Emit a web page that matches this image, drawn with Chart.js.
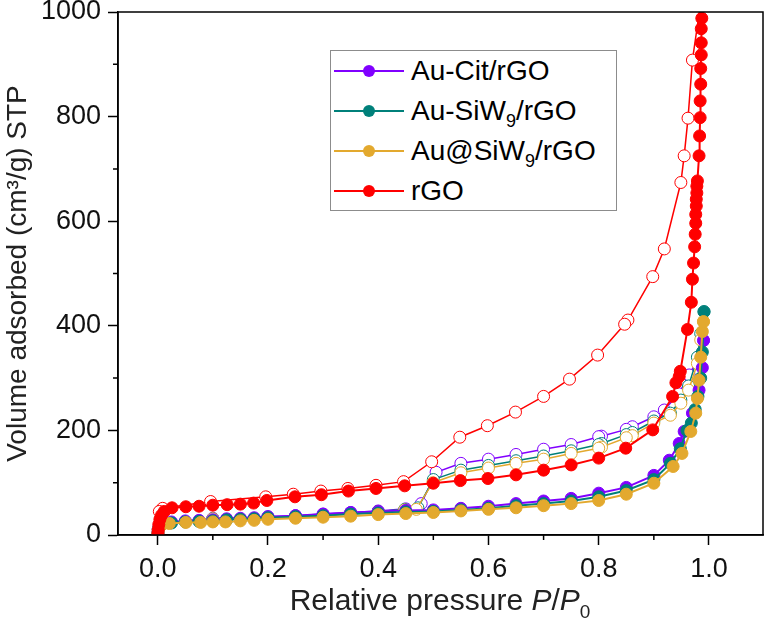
<!DOCTYPE html>
<html>
<head>
<meta charset="utf-8">
<script src="https://cdn.jsdelivr.net/npm/chart.js@4.4.1/dist/chart.umd.min.js"></script>
<style>
  body { margin: 0; background: #fff; }
  #wrap { position: relative; width: 770px; height: 626px; font-family: Arial, "Liberation Sans", sans-serif; }
  #legend {
    position: absolute; left: 330px; top: 50px; width: 287px; height: 161px;
    border: 1px solid #8c8c8c; box-sizing: border-box; background: #fff;
  }
  .row { position: absolute; left: 0; height: 40px; display: flex; align-items: center; font-size: 28px; color: #000; white-space: nowrap; }
  .row svg { margin-left: 3px; margin-right: 7px; }
  .row sub { font-size: 18px; vertical-align: -7px; line-height: 0; }
  #xtitle { position: absolute; left: 0; width: 880px; top: 583px; text-align: center; font-size: 30px; color: #222; white-space: nowrap; }
  #xtitle sub { font-size: 19px; vertical-align: -8px; line-height: 0; }
</style>
</head>
<body>
<div id="wrap">
  <canvas id="chart" width="770" height="626"></canvas>
  <div id="legend"></div>
  <div id="xtitle">Relative pressure <i>P</i>/<i>P</i><sub>0</sub></div>
</div>
<script>
// tick labels
const xTicks = [0, 0.2, 0.4, 0.6, 0.8, 1.0];
const xMinor = [0.1, 0.3, 0.5, 0.7, 0.9];
const yTicks = [0, 200, 400, 600, 800, 1000];
const yMinor = [100, 300, 500, 700, 900];

// sample names (legend) and colours
const names = ['Au-Cit/rGO', 'Au-SiW<sub>9</sub>/rGO', 'Au@SiW<sub>9</sub>/rGO', 'rGO'];
const colors = ['#8000ff', '#00807a', '#e3a92e', '#ff0000'];

// rGO, adsorption (filled) and desorption (open)
const rgoAdsX = [0.0005,0.001,0.002,0.004,0.007,0.012,0.026,0.051,0.075,0.100,0.126,0.150,0.174,0.198,
  0.249,0.297,0.346,0.396,0.448,0.500,0.549,0.599,0.650,0.700,0.750,0.800,0.849,0.898,0.934,0.940,0.946,0.948,
  0.961,0.968,0.970,0.972,0.974,0.975,0.976,0.976,0.977,0.977,0.978,0.978,0.979,
  0.982,0.983,0.984,0.984,0.985,0.985,0.986,0.986,0.986,0.987,0.988];
const rgoAdsY = [3,10,20,30,38,45,52,54,55,57,58,59,61,66,
  73,77,84,89,94,99,104,108,115,124,134,147,166,201,265,291,303,313,
  393,445,489,520,551,575,596,613,629,642,654,667,677,
  725,763,798,830,862,892,918,941,968,988,1040];
const rgoDesX = [0.988,0.970,0.962,0.955,0.949,0.919,0.898,0.853,0.847,0.798,0.747,0.700,0.649,0.598,0.548,
  0.497,0.446,0.396,0.345,0.296,0.246,0.196,0.096,0.009,0.003];
const rgoDesY = [1040,908,797,725,674,547,494,411,403,344,298,265,235,209,187,
  140,102,95,89,84,78,73,64,51,45];

// Au-Cit/rGO
const citAdsX = [0.0005,0.001,0.003,0.008,0.025,0.050,0.075,0.100,0.125,0.150,0.175,0.200,
  0.250,0.300,0.350,0.400,0.450,0.500,0.550,0.600,0.650,0.700,0.750,0.800,0.850,0.900,
  0.928,0.946,0.955,0.970,0.982,0.988,0.990];
const citAdsY = [5,12,18,22,25,27,28,29,31,32,33,35,
  37,40,43,45,47,48,51,55,60,65,70,80,91,114,
  143,175,198,233,277,320,372];
const citDesX = [0.990,0.982,0.964,0.945,0.919,0.900,0.861,0.850,0.805,0.800,0.750,0.700,0.650,0.600,0.550,
  0.505,0.478,0.450,0.400,0.350,0.300,0.250,0.200,0.100,0.010];
const citDesY = [372,341,306,270,239,226,207,202,189,188,173,164,154,145,137,
  120,60,50,46,43,40,37,35,32,23];

// Au-SiW9/rGO
const siwAdsX = [0.0005,0.001,0.003,0.008,0.025,0.050,0.075,0.100,0.125,0.150,0.175,0.200,
  0.250,0.300,0.350,0.400,0.450,0.500,0.550,0.600,0.650,0.700,0.750,0.800,0.850,0.900,
  0.930,0.948,0.960,0.968,0.975,0.980,0.985,0.988,0.991];
const siwAdsY = [4,11,17,21,23,25,26,27,29,30,31,33,
  35,37,40,42,44,45,48,51,56,60,65,73,85,106,
  137,165,200,214,240,265,300,350,427];
const siwDesX = [0.991,0.985,0.979,0.963,0.949,0.930,0.900,0.861,0.850,0.805,0.800,0.750,0.700,0.650,0.600,
  0.550,0.500,0.472,0.448,0.400,0.350,0.300,0.250,0.200,0.100,0.010];
const siwDesY = [427,385,340,285,258,233,218,196,192,175,173,161,151,142,133,
  124,106,52,49,45,41,38,35,34,31,22];

// Au@SiW9/rGO
const atAdsX = [0.0005,0.001,0.003,0.008,0.021,0.051,0.078,0.100,0.123,0.150,0.175,0.200,
  0.250,0.300,0.350,0.400,0.450,0.500,0.550,0.600,0.650,0.700,0.750,0.800,0.850,0.900,
  0.935,0.951,0.967,0.976,0.979,0.982,0.985,0.988,0.990];
const atAdsY = [4,10,16,20,22,24,24,25,25,27,28,30,
  32,34,36,39,41,43,46,49,52,56,60,66,78,99,
  131,156,198,233,261,296,340,389,408];
const atDesX = [0.990,0.985,0.979,0.963,0.949,0.930,0.900,0.861,0.850,0.805,0.800,0.750,0.700,0.650,0.600,
  0.550,0.499,0.469,0.448,0.400,0.350,0.300,0.250,0.200,0.100,0.010];
const atDesY = [408,373,328,277,252,229,214,190,186,168,166,156,145,137,128,
  119,100,49,48,44,40,37,34,33,31,22];

const pts = (xs, ys) => xs.map((x, i) => ({ x: x, y: ys[i] }));

function series(xs, ys, color, open) {
  return {
    data: pts(xs, ys),
    showLine: true,
    borderColor: color,
    borderWidth: open ? 1.5 : 2,
    pointRadius: 6,
    pointBorderWidth: 1,
    pointBorderColor: color,
    pointBackgroundColor: open ? '#ffffff' : color,
    backgroundColor: color,
    clip: 0
  };
}

// first dataset is drawn on top
const datasets = [
  series(rgoAdsX, rgoAdsY, colors[3], false),
  series(rgoDesX, rgoDesY, colors[3], true),
  series(atAdsX, atAdsY, colors[2], false),
  series(siwAdsX, siwAdsY, colors[1], false),
  series(citAdsX, citAdsY, colors[0], false),
  series(atDesX, atDesY, colors[2], true),
  series(siwDesX, siwDesY, colors[1], true),
  series(citDesX, citDesY, colors[0], true)
];

// minor ticks and the box round the plot
const framePlugin = {
  id: 'frame',
  afterDraw(chart) {
    const ctx = chart.ctx, a = chart.chartArea;
    const xs = chart.scales.x, ys = chart.scales.y;
    ctx.save();
    ctx.strokeStyle = '#000';
    ctx.lineWidth = 1.5;
    ctx.strokeRect(a.left, a.top, a.right - a.left, a.bottom - a.top);
    ctx.beginPath();
    xMinor.forEach(v => {
      const px = xs.getPixelForValue(v);
      ctx.moveTo(px, a.bottom);
      ctx.lineTo(px, a.bottom + 5);
    });
    yMinor.forEach(v => {
      const py = ys.getPixelForValue(v);
      ctx.moveTo(a.left, py);
      ctx.lineTo(a.left - 5, py);
    });
    ctx.stroke();
    ctx.restore();
  }
};

const font = { family: 'Arial, "Liberation Sans", sans-serif', size: 27 };

new Chart(document.getElementById('chart'), {
  type: 'scatter',
  data: { datasets: datasets },
  options: {
    responsive: false,
    animation: false,
    devicePixelRatio: 1,
    layout: { padding: { top: 12, right: 2, left: 0, bottom: 0 } },
    plugins: { legend: { display: false }, tooltip: { enabled: false } },
    scales: {
      x: {
        type: 'linear',
        min: -0.072,
        max: 1.098,
        afterFit: s => { s.height = 91; s.paddingLeft = 0; s.paddingRight = 0; },
        afterBuildTicks: s => { s.ticks = xTicks.map(v => ({ value: v })); },
        ticks: { color: '#111', font: font, padding: 8, callback: v => v.toFixed(1) },
        grid: { drawOnChartArea: false, tickLength: 10, tickColor: '#000', tickWidth: 1.5 },
        border: { display: true, color: '#000', width: 1.5 }
      },
      y: {
        type: 'linear',
        min: 0,
        max: 1000,
        afterFit: s => { s.width = 118; s.paddingTop = 0; s.paddingBottom = 0; },
        afterBuildTicks: s => { s.ticks = yTicks.map(v => ({ value: v })); },
        ticks: { color: '#111', font: font, padding: 7, callback: v => String(v) },
        grid: { drawOnChartArea: false, tickLength: 10, tickColor: '#000', tickWidth: 1.5 },
        border: { display: true, color: '#000', width: 1.5 },
        title: {
          display: true,
          text: 'Volume adsorbed (cm³/g) STP',
          color: '#222',
          font: { family: font.family, size: 28 },
          padding: { top: 1, bottom: 0 }
        }
      }
    }
  },
  plugins: [framePlugin]
});

// legend, built from the same names and colours
const legend = document.getElementById('legend');
names.forEach((n, i) => {
  const row = document.createElement('div');
  row.className = 'row';
  row.style.top = (i * 40) + 'px';
  row.innerHTML =
    '<svg width="70" height="14"><line x1="0" y1="7" x2="70" y2="7" stroke="' + colors[i] +
    '" stroke-width="2"/><circle cx="35" cy="7" r="6" fill="' + colors[i] + '"/></svg><span>' + n + '</span>';
  legend.appendChild(row);
});
</script>
</body>
</html>
